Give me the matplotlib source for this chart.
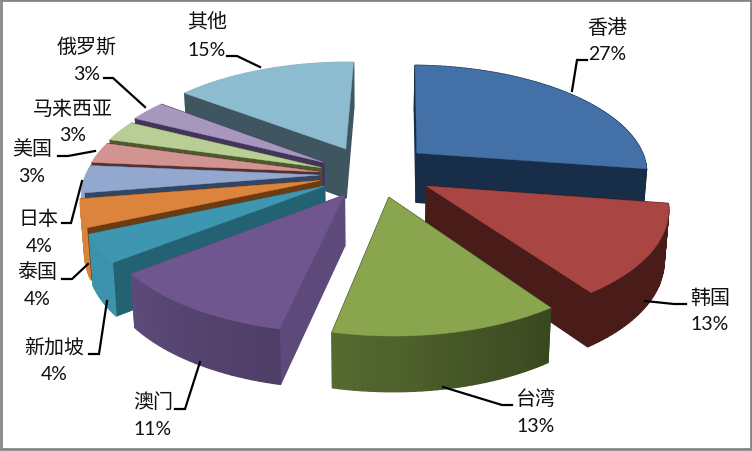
import numpy as np
import matplotlib
matplotlib.use('Agg')
import matplotlib.pyplot as plt
from matplotlib.patches import Polygon, Rectangle
from matplotlib.colors import to_rgb

names = ['香港', '韩国', '台湾', '澳门', '新加坡', '泰国', '日本', '美国', '马来西亚', '俄罗斯', '其他']
values = [27, 13, 13, 11, 4, 4, 4, 3, 3, 3, 15]
explode_u = [0.225, 0.255, 0.095, -0.09, -0.175, -0.195, -0.20, -0.20, -0.195, -0.185, -0.09]
explode_v = [0.20, -0.11, -0.21, -0.19, -0.11, -0.06, -0.01, 0.02, 0.06, 0.11, 0.24]
tops = ['#4470A8', '#A94643', '#89A64E', '#70568F', '#3F96B0', '#DC843C', '#92A8CF', '#D19491', '#B8CE94', '#A797BF', '#8DBBCF']
radial = ['#172D48', '#4A1C19', '#3A4820', '#5E4A7A', '#226272', '#6E3A10', '#324564', '#5A2E2E', '#4C5A2E', '#43355A', '#3F5560']
outer_a = ['#172D48', '#4A1C19', '#3A4820', '#4E3D66', '#3D93AB', '#D9823B', '#92A8CF', '#D19491', '#B8CE94', '#A797BF', '#8DBBCF']
outer_b = ['#172D48', '#4A1C19', '#566A30', '#5C4A78', '#3D93AB', '#D9823B', '#92A8CF', '#D19491', '#B8CE94', '#A797BF', '#8DBBCF']

label_pos = [(607, 28), (710, 298), (536, 400), (153, 403), (54, 348), (37, 273),
             (39, 220), (32, 150), (73, 109), (87, 47), (207, 23)]
leaders = [[(572, 92), (577, 61), (587, 61)],
           [(645, 302), (674, 305), (686, 305)],
           [(443, 388), (502, 406), (512, 406)],
           [(200, 363), (185, 410), (175, 410)],
           [(107, 302), (99, 355), (89, 355)],
           [(88, 265), (72, 280), (62, 280)],
           [(82, 182), (71, 224), (62, 224)],
           [(95, 152), (68, 157), (58, 157)],
           None,
           [(145, 108), (113, 79), (104, 79)],
           [(260, 68), (237, 57), (227, 57)]]

CX, CY, A, B, P, D = 366.0, 175.0, 233.0, 108.0, 0.16, 50.0
START_ANGLE = np.radians(1.5)


def project(u, v, down=0.0):
    w = 1.0 / (1.0 + P * v)
    x = CX + A * u * w
    y = CY - B * v * w
    if down:
        x = CX + (x - CX) * 0.985
        y = y + D * w ** 0.5
    return x, y


fig = plt.figure(figsize=(7.52, 4.52), dpi=100)
ax = fig.add_axes([0, 0, 1, 1])
ax.set_xlim(0, 752)
ax.set_ylim(452, 0)
ax.axis('off')

total = sum(values)
edges = START_ANGLE + np.concatenate([[0], np.cumsum(values)]) / total * 2 * np.pi
slices = []
for i in range(len(values)):
    a0, a1 = edges[i], edges[i + 1]
    slices.append((explode_v[i], i, a0, a1, explode_u[i]))
# painter's order, farthest slices first
order = sorted(slices, key=lambda s: -(s[0] + 0.5 * np.cos((s[2] + s[3]) / 2)))
z = 2
for ov, i, a0, a1, ou in order:
    th = np.linspace(a0, a1, max(8, int((a1 - a0) * 40)))
    u = ou + np.sin(th)
    v = ov + np.cos(th)
    faces = []
    for a in (a0, a1):
        uu, vv = ou + np.sin(a), ov + np.cos(a)
        p = [project(ou, ov), project(uu, vv), project(uu, vv, 1), project(ou, ov, 1)]
        faces.append(((ov + vv) / 2, p, radial[i]))
    ca, cb = np.array(to_rgb(outer_a[i])), np.array(to_rgb(outer_b[i]))
    for k in range(len(th) - 1):
        t = k / max(1, len(th) - 2)
        p = [project(u[k], v[k]), project(u[k + 1], v[k + 1]),
             project(u[k + 1], v[k + 1], 1), project(u[k], v[k], 1)]
        faces.append(((v[k] + v[k + 1]) / 2, p, tuple(ca + (cb - ca) * t)))
    faces.sort(key=lambda f: -f[0])
    for _, p, c in faces:
        ax.add_patch(Polygon(p, closed=True, fc=c, ec=c, lw=1.0, zorder=z))
        z += 1
    top = [project(ou, ov)] + [project(a, b) for a, b in zip(u, v)]
    ax.add_patch(Polygon(top, closed=True, fc=tops[i], ec=tops[i], lw=0.3, zorder=z))
    z += 1

for i, n in enumerate(names):
    x, y = label_pos[i]
    ax.text(x, y, n, ha='center', va='center', fontsize=14.4, color='#111111',
            family=['Noto Sans CJK SC', 'DejaVu Sans'], zorder=z + 2)
    ax.text(x, y + 27, f'{values[i]}%', ha='center', va='center', fontsize=14, color='#111111',
            family=['Lato', 'DejaVu Sans'], zorder=z + 2)
    if leaders[i]:
        xs, ys = zip(*leaders[i])
        ax.plot(xs, ys, color='black', lw=1.6, zorder=z + 1, solid_joinstyle='miter')

ax.add_patch(Rectangle((1, 1), 749.5, 449, fc='none', ec='#868686', lw=2, zorder=z + 3))
fig.savefig('out.png', dpi=100)
